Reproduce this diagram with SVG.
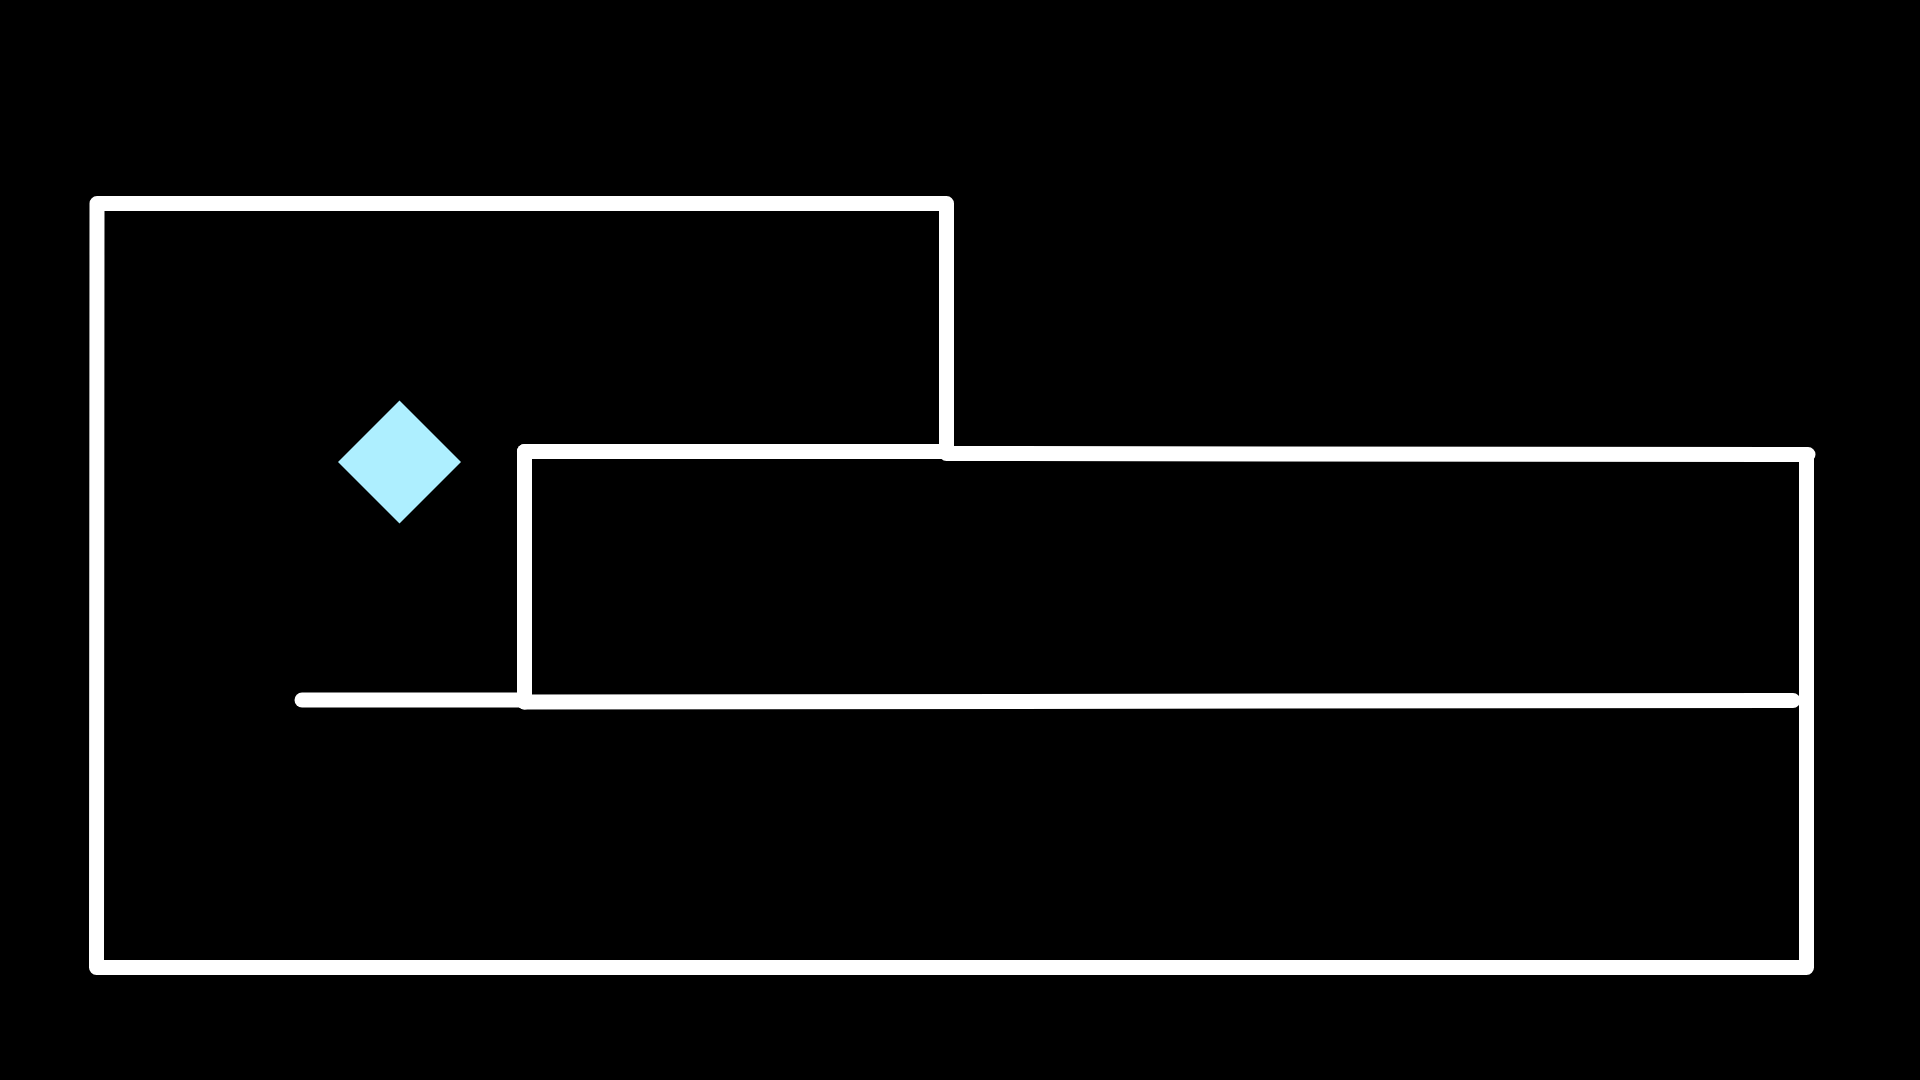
<svg xmlns="http://www.w3.org/2000/svg" width="1920" height="1080" viewBox="0 0 1920 1080">
<style>
.w{fill:none;stroke:#ffffff;stroke-width:15;stroke-linecap:round;stroke-linejoin:round}
</style>
<rect width="1920" height="1080" fill="#000000"/>
<g id="walls">
<path class="w" d="M946.5,452 L946.5,203.5 L97,203.5 L96.5,967.5 L1806.5,967.5 L1806.5,455"/>
<path class="w" d="M524.5,451.5 L946.5,451.5"/>
<path class="w" d="M946.5,453.5 L1808,454.5"/>
<path class="w" d="M524.5,451.5 L524.5,702"/>
<path class="w" d="M302,700 L524.5,700"/>
<path class="w" d="M524.5,702 L1793,700.5"/>
</g>
<g id="diamond">
<polygon points="399.5,400.5 461,462 399.5,523.5 338,462" fill="#aeefff"/>
</g>
</svg>
